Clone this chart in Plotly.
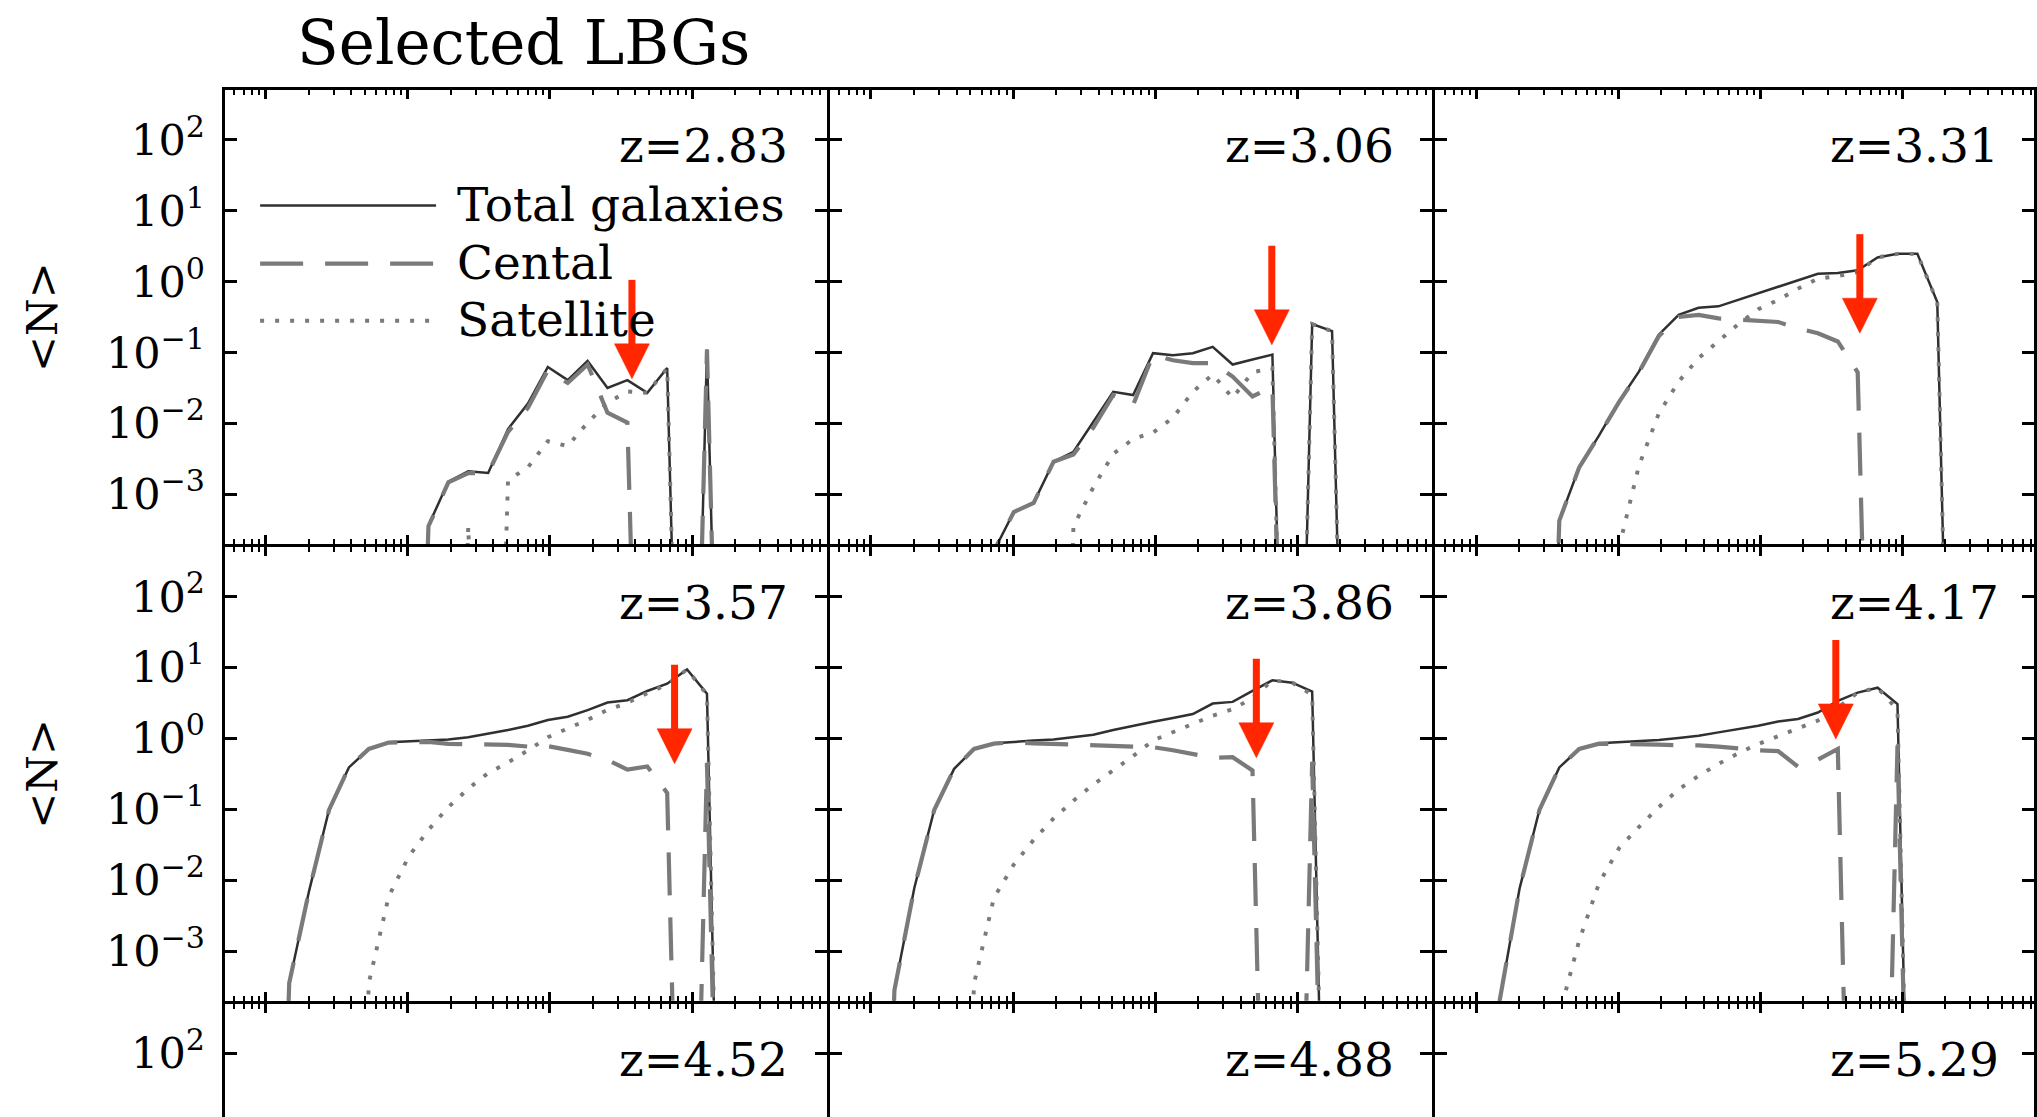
import plotly.graph_objects as go

# ------------------------------------------------------------------ data
# halo-mass bin centres, log10(M)
logM_bins = [10.025, 10.165, 10.305, 10.445, 10.585, 10.725, 10.865, 11.005, 11.145, 11.285,
             11.425, 11.565, 11.705, 11.845, 11.985, 12.125, 12.265, 12.405, 12.545, 12.685,
             12.825, 12.965, 13.105, 13.245, 13.385]

redshift_labels = ["z=2.83", "z=3.06", "z=3.31", "z=3.57", "z=3.86", "z=4.17",
                   "z=4.52", "z=4.88", "z=5.29"]

N = None  # empty bin (<N> = 0)

# log10 <N> per bin
total_z283 = [N, N, N, N, N, N, N, N, -3.44, -2.82, -2.675, -2.70, -2.08, -1.72, -1.205, -1.39,
              -1.12, -1.50, -1.39, -1.57, -1.22, N, -0.96, N, N]
cen_z283 = [N, N, N, N, N, N, N, N, -3.45, -2.83, -2.70, -2.70, -2.12, -1.78, -1.25, -1.43,
            -1.17, -1.85, -1.99, N, N, N, -0.96, N, N]
sat_z283 = [N, N, N, N, N, N, N, N, N, N, -3.45, N, -2.80, -2.62, -2.25, -2.32,
            -1.99, -1.71, -1.55, -1.57, -1.22, N, N, N, N]

total_z306 = [N, N, N, N, N, N, -3.80, -3.25, -3.12, -2.54, -2.40, -1.98, -1.555, -1.60, -1.01, -1.04,
              -1.01, -0.92, -1.17, -1.10, -1.03, N, -0.60, -0.70, N]
cen_z306 = [N, N, N, N, N, N, -3.80, -3.25, -3.12, -2.54, -2.44, -2.06, -1.60, -1.74, -1.03, -1.11,
            -1.15, -1.15, -1.34, -1.62, -1.48, N, N, N, N]
sat_z306 = [N, N, N, N, N, N, N, N, N, N, -3.45, -2.90, -2.43, -2.22, -2.13, -1.92,
            -1.555, -1.31, -1.64, -1.28, -1.22, N, -0.60, -0.70, N]

total_z331 = [N, N, N, N, -3.37, -2.62, -2.17, -1.69, -1.27, -0.75, -0.47, -0.37, -0.35, -0.26, -0.16, -0.075,
              0.02, 0.11, 0.12, 0.16, 0.34, 0.39, 0.39, -0.29, N]
cen_z331 = [N, N, N, N, -3.37, -2.62, -2.17, -1.70, -1.28, -0.77, -0.50, -0.47, -0.52, -0.54, -0.556, -0.57,
            -0.66, -0.73, -0.845, -1.28, N, N, N, N, N]
sat_z331 = [N, N, N, N, N, N, N, -3.75, -2.60, -1.86, -1.41, -1.08, -0.845, -0.60, -0.39, -0.26,
            -0.10, 0.04, 0.075, 0.135, 0.34, 0.39, 0.39, -0.29, N]

total_z357 = [N, -3.45, -2.15, -1.01, -0.41, -0.15, -0.056, -0.042, -0.032, -0.018, 0.014, 0.061, 0.118, 0.178,
              0.258, 0.304, 0.398, 0.504, 0.538, 0.668, 0.771, 0.972, 0.63, N, N]
cen_z357 = [N, -3.45, -2.15, -1.01, -0.41, -0.15, -0.06, -0.05, -0.05, -0.078, -0.078, -0.088, -0.092, -0.116,
            -0.11, -0.163, -0.218, -0.302, -0.442, -0.396, -0.77, N, -0.35, N, N]
sat_z357 = [N, N, N, N, N, -3.45, -2.23, -1.67, -1.29, -0.97, -0.71, -0.49, -0.34, -0.17,
            0.014, 0.14, 0.26, 0.40, 0.50, 0.636, 0.758, 0.972, 0.617, N, N]

total_z386 = [N, -3.55, -2.11, -1.01, -0.43, -0.15, -0.07, -0.046, -0.032, -0.018, 0.014, 0.052, 0.118, 0.178,
              0.234, 0.286, 0.342, 0.49, 0.514, 0.668, 0.818, 0.785, 0.659, N, N]
cen_z386 = [N, -3.55, -2.11, -1.01, -0.43, -0.15, -0.075, -0.055, -0.07, -0.08, -0.088, -0.097, -0.106, -0.11,
            -0.125, -0.168, -0.218, -0.274, -0.266, -0.452, N, N, -0.33, N, N]
sat_z386 = [N, N, N, N, N, -3.46, -2.25, -1.78, -1.43, -1.13, -0.88, -0.65, -0.45, -0.25,
            -0.03, 0.084, 0.20, 0.32, 0.41, 0.57, 0.818, 0.785, 0.614, N, N]

total_z417 = [N, -3.70, -2.12, -1.01, -0.41, -0.15, -0.07, -0.056, -0.046, -0.022, 0.006, 0.038, 0.084, 0.132,
              0.178, 0.238, 0.272, 0.364, 0.528, 0.644, 0.714, 0.482, N, N, N]
cen_z417 = [N, -3.70, -2.12, -1.01, -0.41, -0.15, -0.075, -0.078, -0.078, -0.088, -0.10, -0.10, -0.116, -0.149,
            -0.168, -0.18, -0.40, -0.30, -0.15, N, N, -0.10, N, N, N]
sat_z417 = [N, N, N, N, -3.9, -2.85, -2.04, -1.55, -1.25, -0.97, -0.72, -0.53, -0.36, -0.21,
            -0.08, 0.03, 0.14, 0.25, 0.43, 0.644, 0.714, 0.40, N, N, N]

# red arrows: halo mass and <N> at the arrow tip (log10)
arrow_logM = [12.577, 12.821, 12.700, 12.877, 12.712, 12.531]
arrow_tip_logN = [-1.372, -0.892, -0.728, -0.358, -0.274, -0.008]

yticks_exp = [-3, -2, -1, 0, 1, 2]
xticks_exp = [10, 11, 12, 13]

legend_names = ["Total galaxies", "Cental", "Satellite"]
title_text = "Selected LBGs"
ylabel_text = "&lt;N&gt;"

panels = [
    (total_z283, cen_z283, sat_z283),
    (total_z306, cen_z306, sat_z306),
    (total_z331, cen_z331, sat_z331),
    (total_z357, cen_z357, sat_z357),
    (total_z386, cen_z386, sat_z386),
    (total_z417, cen_z417, sat_z417),
]

# ------------------------------------------------------------------ layout geometry (pixels)
W, H = 2037, 1117
LW = 3
FONT = "DejaVu Serif"
DARK = "#303030"
GREY = "#7a7a7a"
RED = "#ff2600"

col_lines = [223.4, 829.5, 1435.6]          # left axis line centres
row_lines = [88.6, 545.4, 1002.2]           # top axis line centres
panel_w, panel_h = 606.1, 456.8
XR0 = 9.71
PXDX = 142.3                                 # px per dex along x
YR = (-3.699, 2.699)
PXDY = (panel_h - LW) / (YR[1] - YR[0])      # px per dex along y


def px_x(p):
    return p / W


def px_y(p):
    return 1 - p / H


COL = {"solid": dict(color=DARK, width=2.5, dash="solid"),
       "cen": dict(color=GREY, width=4.2, dash="43px,22px"),
       "sat": dict(color=GREY, width=3.9, dash="4px,11px")}

fig = go.Figure()
layout = dict(width=W, height=H, margin=dict(l=0, r=0, t=0, b=0),
              paper_bgcolor="white", plot_bgcolor="white", showlegend=False,
              font=dict(family=FONT, color="black"))

minor_x = [m * 10 ** e for e in range(9, 14) for m in range(2, 10)]

annotations = []
shapes = []

for k in range(9):
    r, c = divmod(k, 3)
    xid = "x" if k == 0 else f"x{k + 1}"
    yid = "y" if k == 0 else f"y{k + 1}"
    xkey = "xaxis" if k == 0 else f"xaxis{k + 1}"
    ykey = "yaxis" if k == 0 else f"yaxis{k + 1}"

    x0 = col_lines[c] + LW / 2
    x1 = min(col_lines[c] + panel_w - LW / 2, W)
    xr1 = XR0 + (x1 - x0) / PXDX
    y0 = row_lines[r] + LW / 2
    y1 = min(row_lines[r] + panel_h - LW / 2, H)
    yr_lo = YR[1] - (y1 - y0) / PXDY

    layout[xkey] = dict(
        type="log", range=[XR0, xr1], domain=[px_x(x0), px_x(x1)], anchor=yid,
        showline=True, linecolor="black", linewidth=LW,
        mirror=("allticks" if r < 2 else False), side=("bottom" if r < 2 else "top"),
        ticks="inside", ticklen=9, tickwidth=2.5, tickcolor="black",
        tickmode="array", tickvals=[10 ** e for e in xticks_exp],
        showticklabels=False, showgrid=False, zeroline=False,
        minor=dict(ticks="inside", ticklen=5, tickwidth=2, tickcolor="black",
                   tickmode="array", tickvals=minor_x, showgrid=False),
    )
    layout[ykey] = dict(
        type="log", range=[yr_lo, YR[1]], domain=[px_y(y1), px_y(y0)], anchor=xid,
        showline=True, linecolor="black", linewidth=LW, mirror="allticks",
        ticks="inside", ticklen=12, tickwidth=2.5, tickcolor="black",
        tickmode="array", tickvals=[10.0 ** e for e in yticks_exp],
        ticktext=[f"10<sup>{'−' + str(-e) if e < 0 else e}</sup>" for e in yticks_exp],
        showticklabels=(c == 0), tickfont=dict(family=FONT, size=43, color="black"),
        ticklabelstandoff=8, showgrid=False, zeroline=False,
    )

    # redshift label
    annotations.append(dict(
        text=redshift_labels[k], xref="paper", yref="paper",
        x=px_x(col_lines[c] + 395), y=px_y(row_lines[r] + 57),
        xanchor="left", yanchor="middle", showarrow=False,
        font=dict(family=FONT, size=47, color="black")))

    if k >= len(panels):
        # panel below the visible crop: register the subplot so its axes are drawn
        fig.add_trace(go.Scatter(x=[None], y=[None], mode="lines", xaxis=xid, yaxis=yid,
                                 hoverinfo="skip", line=COL["solid"]))
        continue

    tot, cen, sat = panels[k]
    xs = [10 ** m for m in logM_bins]
    for vals, sty in ((tot, "solid"), (cen, "cen"), (sat, "sat")):
        ys = [10 ** v if v is not None else 1e-12 for v in vals]
        fig.add_trace(go.Scatter(x=xs, y=ys, mode="lines", line=COL[sty],
                                 xaxis=xid, yaxis=yid, hoverinfo="skip"))

    # arrow
    lx, ty = arrow_logM[k], arrow_tip_logN[k]
    hw = 17.5 / PXDX
    hl = 35 / PXDY
    ln = 99 / PXDY
    fig.add_trace(go.Scatter(x=[10 ** lx, 10 ** lx], y=[10 ** (ty + hl * 0.8), 10 ** (ty + ln)],
                             mode="lines", line=dict(color=RED, width=7),
                             xaxis=xid, yaxis=yid, hoverinfo="skip"))
    fig.add_trace(go.Scatter(x=[10 ** (lx - hw), 10 ** (lx + hw), 10 ** lx, 10 ** (lx - hw)],
                             y=[10 ** (ty + hl), 10 ** (ty + hl), 10 ** ty, 10 ** (ty + hl)],
                             mode="lines", fill="toself", fillcolor=RED,
                             line=dict(color=RED, width=0.5),
                             xaxis=xid, yaxis=yid, hoverinfo="skip"))

# legend inside first panel
leg_y = [205.4, 263.6, 320.7]
for name, sty, yy in zip(legend_names, ("solid", "cen", "sat"), leg_y):
    shapes.append(dict(type="line", xref="paper", yref="paper",
                       x0=px_x(260.5), x1=px_x(436.7), y0=px_y(yy), y1=px_y(yy),
                       line=COL[sty], layer="above"))
    annotations.append(dict(text=name, xref="paper", yref="paper",
                            x=px_x(456), y=px_y(yy - 1), xanchor="left", yanchor="middle",
                            showarrow=False, font=dict(family=FONT, size=47, color="black")))

# title
annotations.append(dict(text=title_text, xref="paper", yref="paper",
                        x=px_x(295), y=px_y(42), xanchor="left", yanchor="middle",
                        showarrow=False, font=dict(family=FONT, size=61, color="black")))
# y-axis titles
for r in range(2):
    annotations.append(dict(text=ylabel_text, xref="paper", yref="paper",
                            x=px_x(42), y=px_y(row_lines[r] + panel_h / 2), textangle=-90,
                            xanchor="center", yanchor="middle", showarrow=False,
                            font=dict(family=FONT, size=43, color="black")))

layout["annotations"] = annotations
layout["shapes"] = shapes
fig.update_layout(**layout)

fig.write_html("out.html", config={"displayModeBar": False},
               post_script="document.body.style.margin='0px';document.body.style.overflow='hidden';")
